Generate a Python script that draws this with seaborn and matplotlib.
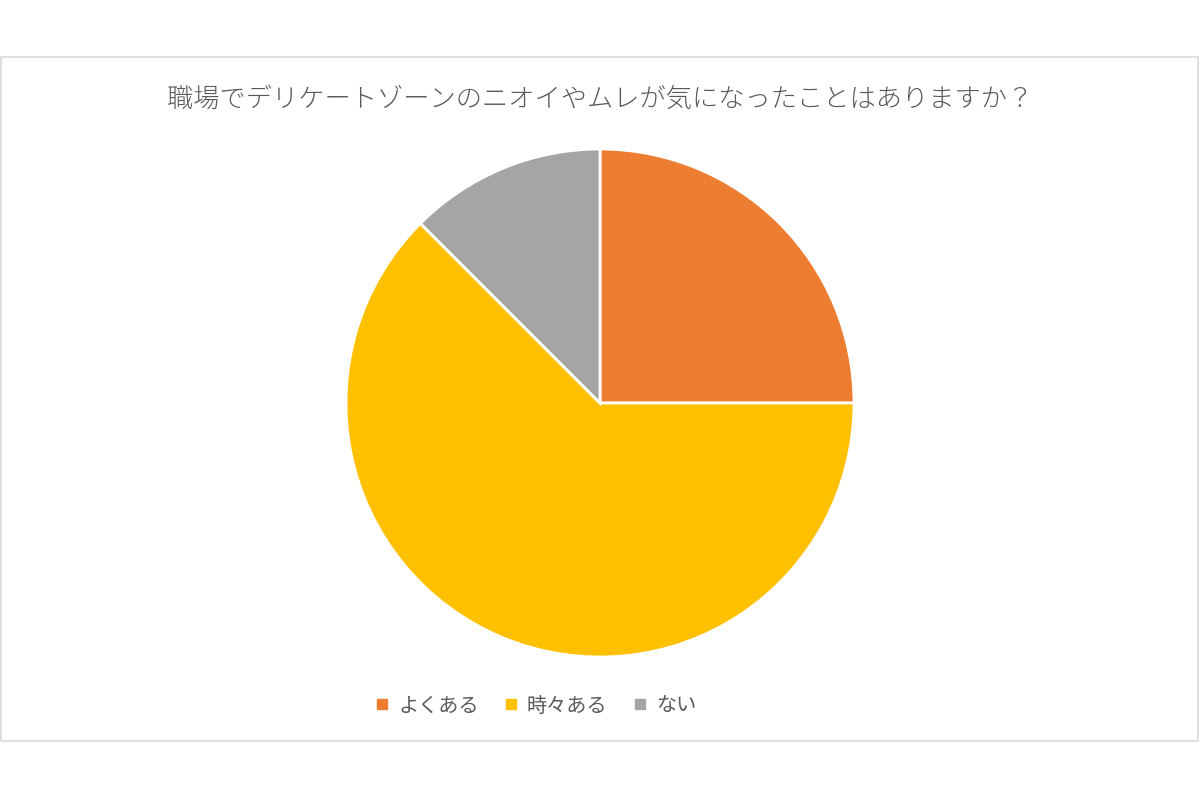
#!/usr/bin/env python3
"""Pie chart: workplace odor / stuffiness survey."""

import matplotlib
matplotlib.use('Agg')
import matplotlib.pyplot as plt
import seaborn as sns
from matplotlib.patches import Rectangle
from matplotlib.lines import Line2D

# Data
labels = ['よくある', '時々ある', 'ない']
shares = [25.0, 62.5, 12.5]
colors = ['#ED7D31', '#FFC000', '#A5A5A5']
title = '職場でデリケートゾーンのニオイやムレが気になったことはありますか？'

sns.set_theme(style='white')
plt.rcParams['font.family'] = ['Noto Sans CJK JP', 'DejaVu Sans']

W, H = 1200, 800
fig = plt.figure(figsize=(12, 8), dpi=100)
fig.patch.set_facecolor('white')

# chart frame
fig.patches.append(Rectangle((1 / W, 1 - 741 / H), 1197 / W, 684 / H,
                             transform=fig.transFigure, fill=False,
                             edgecolor='#D9D9D9', linewidth=1.2))

# pie area: centre (600, 403), radius 254 px
cx, cy, r = 600, 403, 254
ax = fig.add_axes([(cx - r) / W, 1 - (cy + r) / H, 2 * r / W, 2 * r / H])
ax.pie(shares, colors=colors, startangle=90, counterclock=False,
       wedgeprops=dict(edgecolor='white', linewidth=2))
ax.set_xlim(-1.0, 1.0)
ax.set_ylim(-1.0, 1.0)
ax.set_aspect('equal')
ax.axis('off')

fig.text(0.5, 1 - 100 / H, title, ha='center', va='center',
         fontsize=18.9, color='#595959', fontweight='light')

handles = [Line2D([], [], marker='s', linestyle='none', markersize=7,
                  markerfacecolor=c, markeredgecolor=c) for c in colors]
fig.legend(handles, labels, loc='center', bbox_to_anchor=(535 / W, 1 - 706 / H),
           ncol=3, frameon=False, fontsize=14.5, labelcolor='#595959',
           handlelength=0.8, handletextpad=0.4, columnspacing=1.2)

fig.savefig('out.png', dpi=100)
